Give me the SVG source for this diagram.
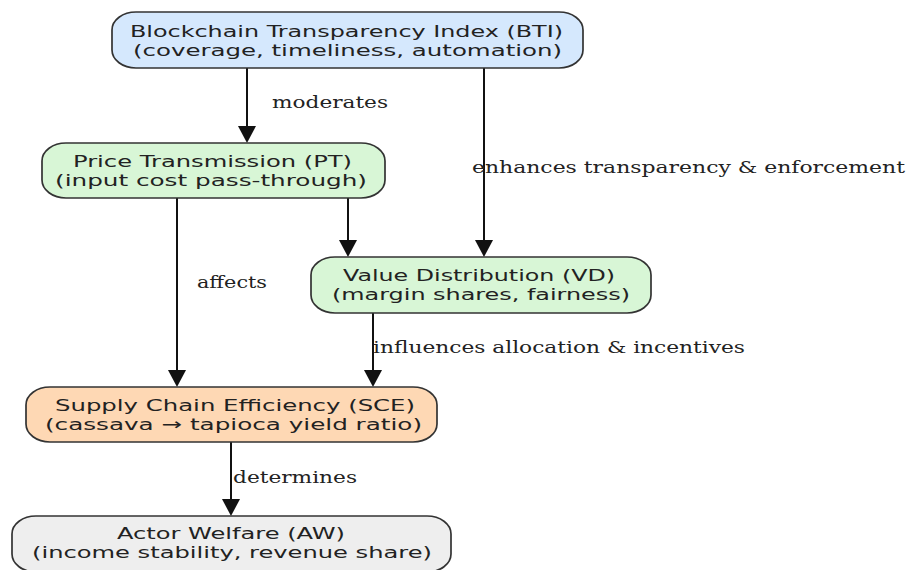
<svg xmlns="http://www.w3.org/2000/svg" width="907" height="570" viewBox="0 0 907 570">
<style>
.node rect{stroke:#333;stroke-width:1.7}
.nt{font-family:"DejaVu Sans",sans-serif;font-size:16px;fill:#222;text-anchor:middle}
.el{font-family:"DejaVu Serif",serif;font-size:16px;fill:#222}
.edge line{stroke:#111;stroke-width:2;marker-end:url(#ah)}
</style>
<defs>
<marker id="ah" markerUnits="userSpaceOnUse" markerWidth="18" markerHeight="20" viewBox="0 -10 17 20" refX="0" refY="0" orient="auto">
<path d="M0,-9 L17,0 L0,9 Z" fill="#111"/>
</marker>
</defs>
<rect width="907" height="570" fill="#fff"/>
<g id="edges" class="edge">
<line x1="247" y1="68" x2="247" y2="126"/>
<line x1="484" y1="68" x2="484" y2="240"/>
<line x1="348" y1="198" x2="348" y2="240"/>
<line x1="177" y1="198" x2="177" y2="370"/>
<line x1="373" y1="313" x2="373" y2="370"/>
<line x1="231" y1="442" x2="231" y2="499"/>
<text class="el" x="272" y="108" textLength="116" lengthAdjust="spacingAndGlyphs">moderates</text>
<text class="el" x="472" y="173" textLength="433" lengthAdjust="spacingAndGlyphs">enhances transparency &amp; enforcement</text>
<text class="el" x="197" y="288" textLength="70" lengthAdjust="spacingAndGlyphs">affects</text>
<text class="el" x="373" y="353" textLength="372" lengthAdjust="spacingAndGlyphs">influences allocation &amp; incentives</text>
<text class="el" x="233" y="483" textLength="124" lengthAdjust="spacingAndGlyphs">determines</text>
</g>
<g id="BTI" class="node">
<rect x="112" y="12" width="471" height="56" rx="24" ry="18" fill="#d5e8fd"/>
<text class="nt" x="346.5" y="37" textLength="433" lengthAdjust="spacingAndGlyphs">Blockchain Transparency Index (BTI)</text>
<text class="nt" x="347.5" y="56" textLength="429" lengthAdjust="spacingAndGlyphs">(coverage, timeliness, automation)</text>
</g>
<g id="PT" class="node">
<rect x="42" y="143" width="343" height="55" rx="24" ry="18" fill="#d8f6d6"/>
<text class="nt" x="212.5" y="167" textLength="279" lengthAdjust="spacingAndGlyphs">Price Transmission (PT)</text>
<text class="nt" x="211" y="186" textLength="312" lengthAdjust="spacingAndGlyphs">(input cost pass-through)</text>
</g>
<g id="VD" class="node">
<rect x="311" y="257" width="340" height="56" rx="24" ry="18" fill="#d8f6d6"/>
<text class="nt" x="479" y="281" textLength="272" lengthAdjust="spacingAndGlyphs">Value Distribution (VD)</text>
<text class="nt" x="481" y="300" textLength="298" lengthAdjust="spacingAndGlyphs">(margin shares, fairness)</text>
</g>
<g id="SCE" class="node">
<rect x="26" y="387" width="411" height="55" rx="24" ry="18" fill="#fed8b4"/>
<text class="nt" x="235" y="411" textLength="360" lengthAdjust="spacingAndGlyphs">Supply Chain Efficiency (SCE)</text>
<text class="nt" x="233.5" y="430" textLength="377" lengthAdjust="spacingAndGlyphs">(cassava → tapioca yield ratio)</text>
</g>
<g id="AW" class="node">
<rect x="12" y="516" width="439" height="56" rx="24" ry="18" fill="#eeeeee"/>
<text class="nt" x="231" y="539" textLength="228" lengthAdjust="spacingAndGlyphs">Actor Welfare (AW)</text>
<text class="nt" x="232" y="558" textLength="400" lengthAdjust="spacingAndGlyphs">(income stability, revenue share)</text>
</g>
</svg>
